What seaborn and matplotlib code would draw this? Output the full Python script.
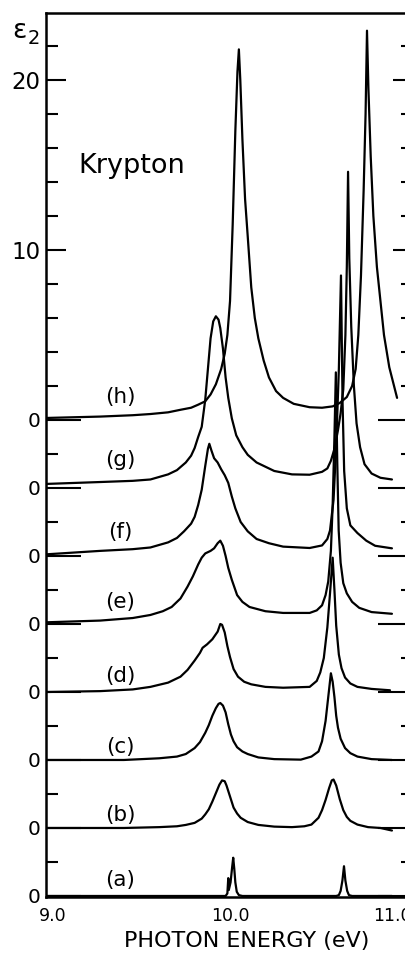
import numpy as np
import pandas as pd
import matplotlib
matplotlib.use("Agg")
import matplotlib.pyplot as plt
import matplotlib.transforms as mtransforms
import seaborn as sns
from matplotlib.ticker import MultipleLocator

# ---- data: photon energy (eV) and epsilon_2 for each spectrum (a)..(h) ----
E_a = [8.966, 9.500, 9.975, 9.985, 9.990, 9.993, 10.003, 10.012, 10.018, 10.024, 10.030,
       10.038, 10.050, 10.070, 10.300, 10.600, 10.615, 10.625, 10.635, 10.644, 10.652,
       10.662, 10.672, 10.690, 10.915]
eps_a = [0.0, 0.0, 0.0, 0.15, 1.05, 0.35, 0.8, 1.7, 2.25, 1.6, 0.8,
         0.25, 0.05, 0.0, 0.0, 0.0, 0.05, 0.3, 0.9, 1.75, 0.9,
         0.3, 0.05, 0.0, 0.0]

E_b = [8.966, 9.40, 9.60, 9.70, 9.75, 9.80, 9.84, 9.86, 9.88, 9.90, 9.92, 9.94, 9.955, 9.97,
       9.98, 10.00, 10.02, 10.04, 10.06, 10.10, 10.16, 10.25, 10.35, 10.42, 10.46, 10.50,
       10.52, 10.54, 10.56, 10.575, 10.585, 10.60, 10.62, 10.64, 10.66, 10.68, 10.72, 10.78,
       10.85, 10.915]
eps_b = [0.0, 0.0, 0.05, 0.1, 0.18, 0.3, 0.55, 0.8, 1.1, 1.55, 2.05, 2.55, 2.8, 2.75,
         2.5, 1.85, 1.2, 0.85, 0.6, 0.35, 0.18, 0.08, 0.05, 0.1, 0.2, 0.6,
         1.05, 1.65, 2.35, 2.8, 2.85, 2.5, 1.7, 1.05, 0.65, 0.42, 0.2, 0.05,
         0.0, -0.15]

E_c = [8.966, 9.40, 9.60, 9.70, 9.75, 9.80, 9.83, 9.86, 9.88, 9.90, 9.92, 9.935, 9.945, 9.96,
       9.975, 9.99, 10.005, 10.02, 10.04, 10.07, 10.10, 10.16, 10.25, 10.40, 10.46, 10.50,
       10.52, 10.54, 10.555, 10.57, 10.58, 10.59, 10.60, 10.61, 10.625, 10.65, 10.68, 10.72,
       10.80, 10.915]
eps_c = [0.0, 0.0, 0.1, 0.2, 0.35, 0.7, 1.05, 1.6, 2.05, 2.6, 3.05, 3.3, 3.35, 3.2,
         2.8, 2.1, 1.5, 1.1, 0.75, 0.5, 0.35, 0.15, 0.05, 0.02, 0.2, 0.5,
         1.1, 2.3, 3.7, 5.1, 4.6, 3.7, 2.6, 1.9, 1.25, 0.7, 0.4, 0.2,
         0.05, 0.0]

E_d = [8.966, 9.266, 9.45, 9.55, 9.65, 9.72, 9.76, 9.80, 9.83, 9.845, 9.87, 9.90, 9.93, 9.945,
       9.955, 9.97, 9.985, 10.00, 10.02, 10.045, 10.08, 10.12, 10.20, 10.30, 10.45, 10.49,
       10.51, 10.53, 10.55, 10.565, 10.58, 10.59, 10.60, 10.615, 10.63, 10.65, 10.68, 10.72,
       10.80, 10.904]
eps_d = [0.0, 0.05, 0.15, 0.3, 0.55, 0.9, 1.3, 1.85, 2.3, 2.6, 2.8, 3.1, 3.55, 4.0,
         3.95, 3.5, 2.7, 2.05, 1.35, 0.9, 0.6, 0.45, 0.3, 0.25, 0.3, 0.65,
         1.15, 2.0, 3.8, 5.8, 7.9, 6.0, 3.9, 2.2, 1.4, 0.85, 0.5, 0.3,
         0.18, 0.1]

E_e = [8.966, 9.266, 9.45, 9.55, 9.62, 9.67, 9.72, 9.76, 9.79, 9.82, 9.84, 9.86, 9.89, 9.91,
       9.93, 9.945, 9.96, 9.975, 9.99, 10.01, 10.04, 10.07, 10.11, 10.20, 10.30, 10.45,
       10.49, 10.52, 10.54, 10.555, 10.57, 10.58, 10.59, 10.598, 10.606, 10.614, 10.625,
       10.64, 10.66, 10.69, 10.73, 10.80, 10.915]
eps_e = [0.1, 0.2, 0.35, 0.53, 0.75, 1.0, 1.5, 2.2, 2.8, 3.5, 3.9, 4.15, 4.3, 4.45,
         4.75, 4.9, 4.6, 4.0, 3.3, 2.6, 1.7, 1.3, 1.0, 0.75, 0.65, 0.65,
         0.8, 1.1, 1.7, 2.5, 4.3, 7.0, 11.0, 14.8, 9.5, 5.5, 3.6,
         2.4, 1.8, 1.3, 0.95, 0.7, 0.6]

E_f = [8.966, 9.266, 9.45, 9.55, 9.65, 9.70, 9.74, 9.78, 9.80, 9.82, 9.84, 9.86, 9.875, 9.883,
       9.895, 9.91, 9.93, 9.95, 9.97, 9.99, 10.01, 10.03, 10.06, 10.10, 10.15, 10.22, 10.30,
       10.45, 10.52, 10.55, 10.565, 10.585, 10.60, 10.615, 10.627, 10.636, 10.645, 10.66,
       10.68, 10.72, 10.77, 10.82, 10.915]
eps_f = [0.1, 0.3, 0.4, 0.5, 0.8, 1.06, 1.45, 1.9, 2.3, 3.0, 3.9, 5.3, 6.3, 6.6,
         6.2, 5.75, 5.5, 5.1, 4.75, 4.3, 3.5, 2.8, 2.0, 1.45, 1.0, 0.75, 0.55,
         0.47, 0.62, 1.0, 1.5, 3.3, 6.5, 11.0, 16.5, 9.0, 5.0, 2.8,
         1.8, 1.35, 0.9, 0.6, 0.45]

E_g = [8.966, 9.266, 9.45, 9.55, 9.65, 9.70, 9.75, 9.78, 9.80, 9.82, 9.84, 9.86, 9.875, 9.89,
       9.905, 9.92, 9.935, 9.945, 9.96, 9.975, 9.99, 10.01, 10.035, 10.07, 10.10, 10.15,
       10.25, 10.35, 10.45, 10.52, 10.55, 10.57, 10.59, 10.61, 10.625, 10.64, 10.652, 10.66,
       10.667, 10.674, 10.685, 10.70, 10.715, 10.735, 10.76, 10.80, 10.85, 10.915]
eps_g = [0.24, 0.35, 0.42, 0.5, 0.8, 1.05, 1.5, 1.9, 2.35, 3.0, 3.6, 5.2, 7.0, 8.8,
         9.8, 10.1, 9.9, 9.4, 8.2, 6.5, 5.3, 4.1, 3.1, 2.4, 1.95, 1.5,
         1.0, 0.8, 0.78, 0.95, 1.15, 1.6, 2.3, 3.4, 4.4, 5.8, 9.0, 13.0,
         18.6, 13.5, 9.5, 6.0, 3.8, 2.4, 1.4, 0.85, 0.6, 0.5]

E_h = [8.966, 9.266, 9.45, 9.55, 9.65, 9.72, 9.78, 9.82, 9.86, 9.89, 9.92, 9.95, 9.97, 9.985,
       10.00, 10.015, 10.03, 10.042, 10.05, 10.058, 10.07, 10.085, 10.10, 10.12, 10.14,
       10.16, 10.19, 10.22, 10.26, 10.30, 10.36, 10.45, 10.52, 10.58, 10.62, 10.66, 10.69,
       10.71, 10.725, 10.74, 10.755, 10.766, 10.774, 10.782, 10.795, 10.81, 10.83, 10.85,
       10.87, 10.90, 10.944]
eps_h = [0.12, 0.2, 0.28, 0.35, 0.45, 0.6, 0.72, 0.9, 1.1, 1.5, 2.1, 3.0, 3.9, 5.0,
         7.0, 11.5, 17.0, 20.5, 21.8, 20.0, 16.5, 13.0, 10.8, 7.8, 6.0,
         4.8, 3.5, 2.5, 1.7, 1.3, 0.95, 0.75, 0.72, 0.8, 1.0, 1.35, 2.0,
         3.0, 5.0, 8.5, 13.5, 18.0, 22.9, 19.5, 15.5, 12.0, 9.0, 7.0,
         5.0, 3.1, 1.3]

curve_names = ["a", "b", "c", "d", "e", "f", "g", "h"]
curve_labels = ["(a)", "(b)", "(c)", "(d)", "(e)", "(f)", "(g)", "(h)"]
energies = [E_a, E_b, E_c, E_d, E_e, E_f, E_g, E_h]
epsilons = [eps_a, eps_b, eps_c, eps_d, eps_e, eps_f, eps_g, eps_h]

x_ticks = [9.0, 10.0, 11.0]
x_ticklabels = ["9.0", "10.0", "11.0"]

# ---- layout (vertical offsets of the stacked spectra) ----
step = 4.0
offsets = [-step * (7 - i) for i in range(8)]          # a: -28 ... h: 0
label_rel = [0.94, 0.76, 0.76, 0.94, 1.3, 1.4, 1.65, 1.35]

rows = []
for name, E, eps, off in zip(curve_names, energies, epsilons, offsets):
    for e_, v in zip(E, eps):
        rows.append((name, e_, v + off))
df = pd.DataFrame(rows, columns=["curve", "E", "shifted"])

sns.set_style("ticks")
plt.rcParams["font.family"] = ["DejaVu Sans"]
plt.rcParams["text.color"] = "black"
plt.rcParams["axes.labelcolor"] = "black"

fig = plt.figure(figsize=(4.05, 9.56), dpi=100)
ax = fig.add_axes([46 / 405, 1 - 897 / 956, 367 / 405, 884 / 956])

sns.lineplot(data=df, x="E", y="shifted", units="curve", estimator=None,
             color="black", lw=1.6, sort=False, legend=False, ax=ax)

ax.set_xlim(8.96, 11.034)
ax.set_ylim(-28.06, 23.94)

for sp in ax.spines.values():
    sp.set_color("black")
    sp.set_linewidth(1.8)

ax.set_xticks(x_ticks)
ax.set_xticklabels(x_ticklabels)
ax.tick_params(axis="x", length=0, pad=7, labelsize=12.5, colors="black")
# the right-most label is lettered a little left of its tick in the original
shift = mtransforms.ScaledTranslation(-0.15, 0, fig.dpi_scale_trans)
last_lab = ax.get_xticklabels()[-1]
last_lab.set_transform(last_lab.get_transform() + shift)

y_major = [20, 10] + offsets[::-1]
y_labels = ["20", "10"] + ["0"] * len(offsets)
ax.set_yticks(y_major)
ax.set_yticklabels(y_labels)
ax.yaxis.set_minor_locator(MultipleLocator(2))
ax.tick_params(axis="y", which="both", direction="in", left=True, right=True,
               width=1.5, color="black", labelcolor="black", pad=4)
ax.tick_params(axis="y", which="minor", length=8.6)
for t, val in zip(ax.yaxis.get_major_ticks(), y_major):
    L = 14.4 if val > 0 else 25.0
    t.tick1line.set_markersize(L)
    t.tick2line.set_markersize(L)
    t.label1.set_fontsize(16.5 if val > 0 else 14.5)

ax.set_ylabel("")
ax.set_xlabel("PHOTON ENERGY (eV)", fontsize=16, color="black")
ax.xaxis.set_label_coords(0.548, -0.0385)

for lab, off, rel in zip(curve_labels, offsets, label_rel):
    ax.text(9.379, off + rel, lab, ha="center", va="center", fontsize=15.5,
            color="black")

fig.text(78 / 405, 1 - 173 / 956, "Krypton", fontsize=19.5, va="baseline",
         color="black")
fig.text(12 / 405, 1 - 38 / 956, "\u03b5", fontsize=19, va="baseline", color="black")
fig.text(28 / 405, 1 - 44 / 956, "2", fontsize=14, va="baseline", color="black")

fig.savefig("out.png", dpi=100)
